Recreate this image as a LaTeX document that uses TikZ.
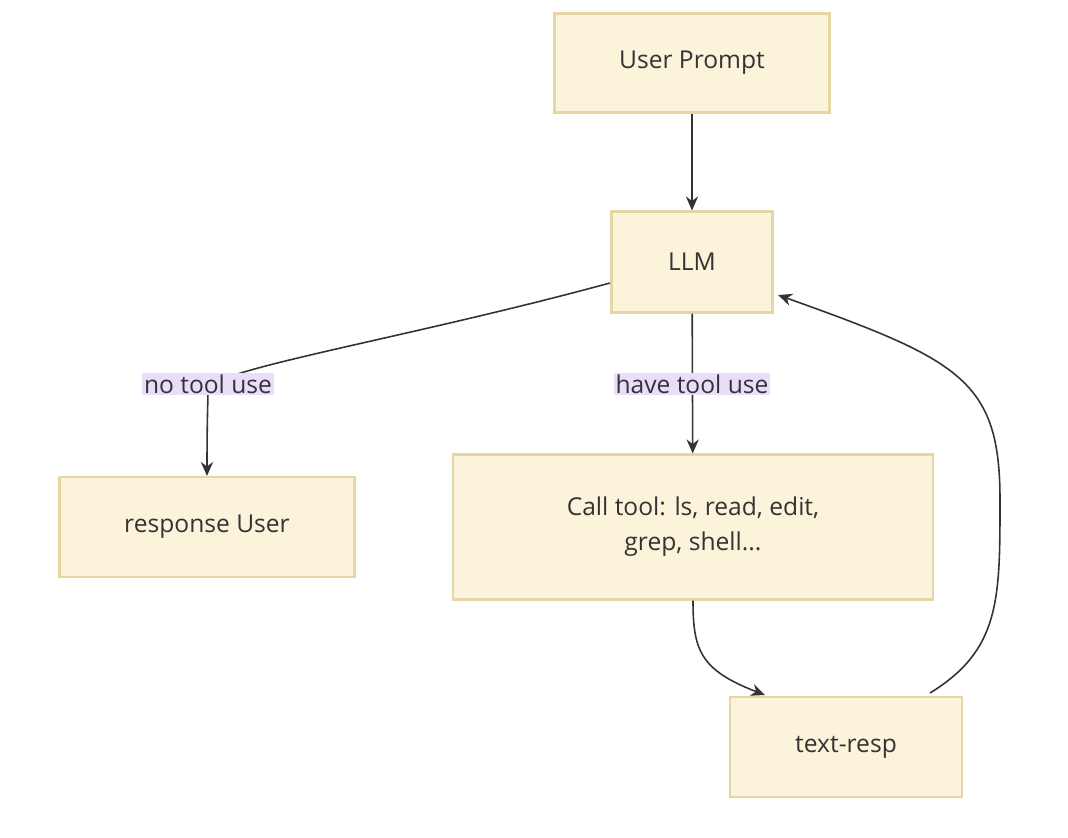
\documentclass[tikz,border=0pt]{standalone}
\usepackage{fontspec}
\setmainfont{Open Sans}
\usetikzlibrary{arrows.meta,positioning}
\definecolor{boxfill}{HTML}{FBF3DA}
\definecolor{boxline}{HTML}{E6D6A6}
\definecolor{lblfill}{HTML}{E9DDFA}
\definecolor{ink}{HTML}{333333}

\begin{document}
\begin{tikzpicture}[
            x = 0.02cm, y = -0.02cm,
            > = {Stealth[length=8pt,width=7pt]}, % arrow head style
            box/.style = {draw=boxline, fill=boxfill, line width=1.2pt,
                inner sep=0pt, font=\fontsize{14}{20}\selectfont, text=ink,
                align=center},
            lbl/.style = {fill=lblfill, inner sep=1pt,
                font=\fontsize{14}{17}\selectfont, text=ink},
            flow/.style = {->, draw=ink, line width=0.9pt}
        ]
	\useasboundingbox (0,0) rectangle (1068,838);

	\node[box, minimum width=275*0.02cm, minimum height=99*0.02cm] (P) at (692,63) {User Prompt};
	\node[box, minimum width=161*0.02cm, minimum height=101*0.02cm] (L) at (692,262) {LLM};
	\node[box, minimum width=295*0.02cm, minimum height=100*0.02cm] (R) at (207,527) {response User};
	\node[box, minimum width=480*0.02cm, minimum height=145*0.02cm] (C) at (693,527) {Call tool: ls, read, edit,\\grep, shell...};
	\node[box, minimum width=232*0.02cm, minimum height=100*0.02cm] (T) at (846,747) {text-resp};

	\coordinate (la) at (610,283);
	\coordinate (ta) at (930,693);
	\coordinate (tb) at (765,695);
	\coordinate (lb) at (778,295);

	\draw[flow] (P) -- (L);
	\draw[flow] (la) .. controls (400,340) and (208,370) .. (208,390)
		.. controls (208,400) and (207,420) .. (R.north);
	\draw[flow] (L) -- (C);
	\draw[flow] (C.south) .. controls (693,650) and (700,670) .. (tb);
	\draw[flow] (ta) .. controls (1000,650) and (1000,600) .. (1000,500)
		.. controls (1000,380) and (960,360) .. (lb);

	\node[lbl] (n1) at (208,384) {no tool use};
	\node[lbl] (n2) at (692,384) {have tool use};
\end{tikzpicture}
\end{document}
